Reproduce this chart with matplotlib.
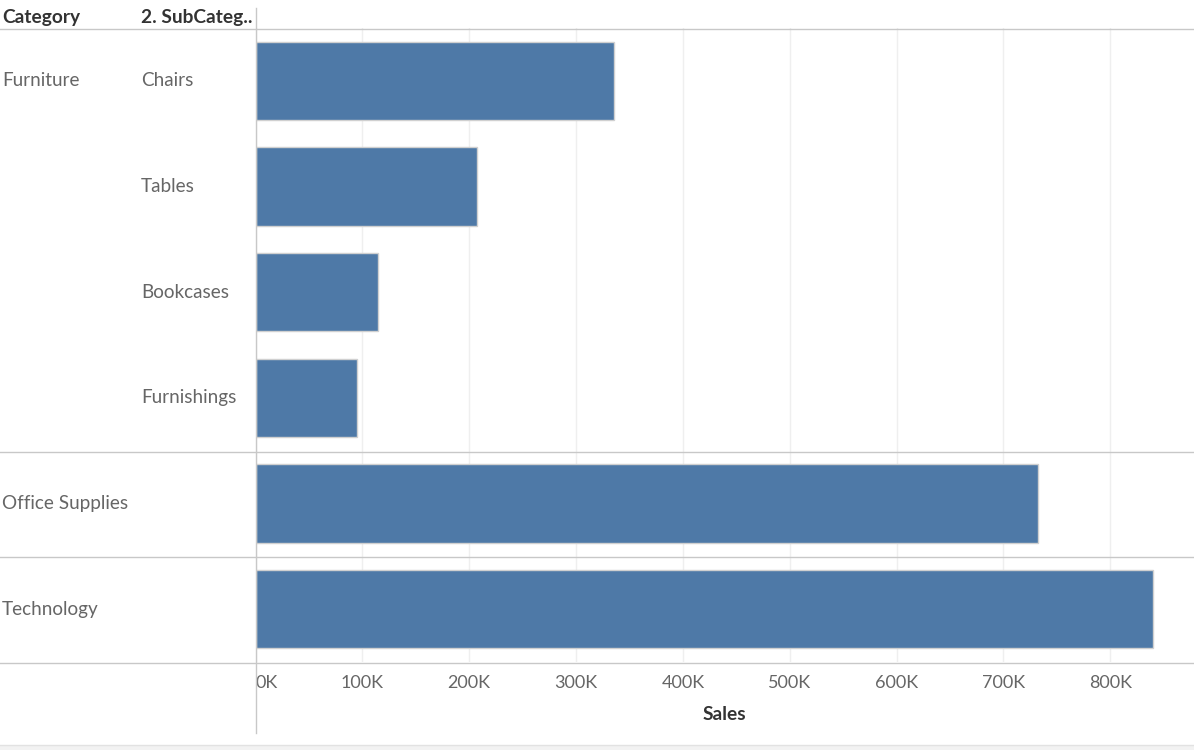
import matplotlib
matplotlib.use("Agg")
import matplotlib.pyplot as plt
from matplotlib.lines import Line2D
from matplotlib.patches import Rectangle
from matplotlib.transforms import blended_transform_factory

plt.rcParams['font.family'] = ['Lato', 'DejaVu Sans']

# ---- data ----
categories = ["Furniture", "Furniture", "Furniture", "Furniture", "Office Supplies", "Technology"]
subcategories = ["Chairs", "Tables", "Bookcases", "Furnishings", "", ""]
sales = [335800, 207600, 115000, 95300, 732600, 840200]
tick_values = [0, 100000, 200000, 300000, 400000, 500000, 600000, 700000, 800000]
tick_labels = ["0K", "100K", "200K", "300K", "400K", "500K", "600K", "700K", "800K"]
header_labels = ["Category", "2. SubCateg.."]
x_title = "Sales"

W, H = 1194, 750
fig = plt.figure(figsize=(W / 100, H / 100), dpi=100)
fig.patch.set_facecolor("white")

def fx(px):
    return px / W

def fy(py):
    return 1 - py / H

ax_left, ax_right, ax_top, ax_bottom = 255.5, 1194, 28, 662
ax = fig.add_axes([fx(ax_left), fy(ax_bottom), fx(ax_right - ax_left), (ax_bottom - ax_top) / H])

bar_color = "#4e79a7"
edge_color = "#d0d0d0"
line_color = "#c8c8c8"
grid_color = "#efefef"
label_color = "#666666"
header_color = "#333333"
fs_label = 13.6
fs_tick = 13.0
fs_head = 13.8

n = len(sales)
ypos = list(range(n))
ax.barh(ypos, sales, height=0.74, color=bar_color, edgecolor=edge_color, linewidth=1.0, zorder=3)
ax.set_ylim(n - 0.5, -0.5)
px_per_100k = 106.85
ax.set_xlim(0, (ax_right - ax_left) / px_per_100k * 100000)

ax.set_xticks(tick_values)
ax.set_xticklabels(tick_labels)
ax.tick_params(axis='x', length=0, pad=9.5, labelsize=fs_tick, labelcolor=label_color)
ax.set_yticks([])
lbls = ax.get_xticklabels()
lbls[0].set_horizontalalignment('left')
ax.xaxis.grid(True, color=grid_color, linewidth=1.0, zorder=0)
for s in ["top", "right", "bottom", "left"]:
    ax.spines[s].set_visible(False)
ax.set_xlabel(x_title, fontsize=fs_head, fontweight='bold', color=header_color, labelpad=11)

# ---- separator lines (figure-level) ----
def hline(py, x0=0, x1=W, color=line_color):
    fig.add_artist(Line2D([fx(x0), fx(x1)], [fy(py), fy(py)], color=color, linewidth=1.0,
                          transform=fig.transFigure, zorder=5))

hline(28.5)
hline(451.5)
hline(556.5)
hline(662.5)
fig.add_artist(Line2D([fx(255.5), fx(255.5)], [fy(8), fy(733)], color=line_color, linewidth=1.0,
                      transform=fig.transFigure, zorder=5))

# bottom strip
fig.add_artist(Rectangle((0, 0), 1, 5 / H, transform=fig.transFigure, facecolor="#f2f2f2",
                         edgecolor="none", zorder=1))
hline(745, color="#e2e2e2")

# ---- headers ----
fig.text(fx(2), fy(17), header_labels[0], fontsize=fs_head, fontweight='bold', color=header_color,
         ha='left', va='center')
fig.text(fx(141), fy(17), header_labels[1], fontsize=fs_head, fontweight='bold', color=header_color,
         ha='left', va='center')

# ---- row labels ----
trans = blended_transform_factory(fig.transFigure, ax.transData)
seen = set()
for i, (cat, sub) in enumerate(zip(categories, subcategories)):
    if cat not in seen:
        seen.add(cat)
        fig.text(fx(2), i, cat, transform=trans, fontsize=fs_label, color=label_color,
                 ha='left', va='center')
    if sub:
        fig.text(fx(141), i, sub, transform=trans, fontsize=fs_label, color=label_color,
                 ha='left', va='center')

fig.savefig("out.png", dpi=100, facecolor="white")
